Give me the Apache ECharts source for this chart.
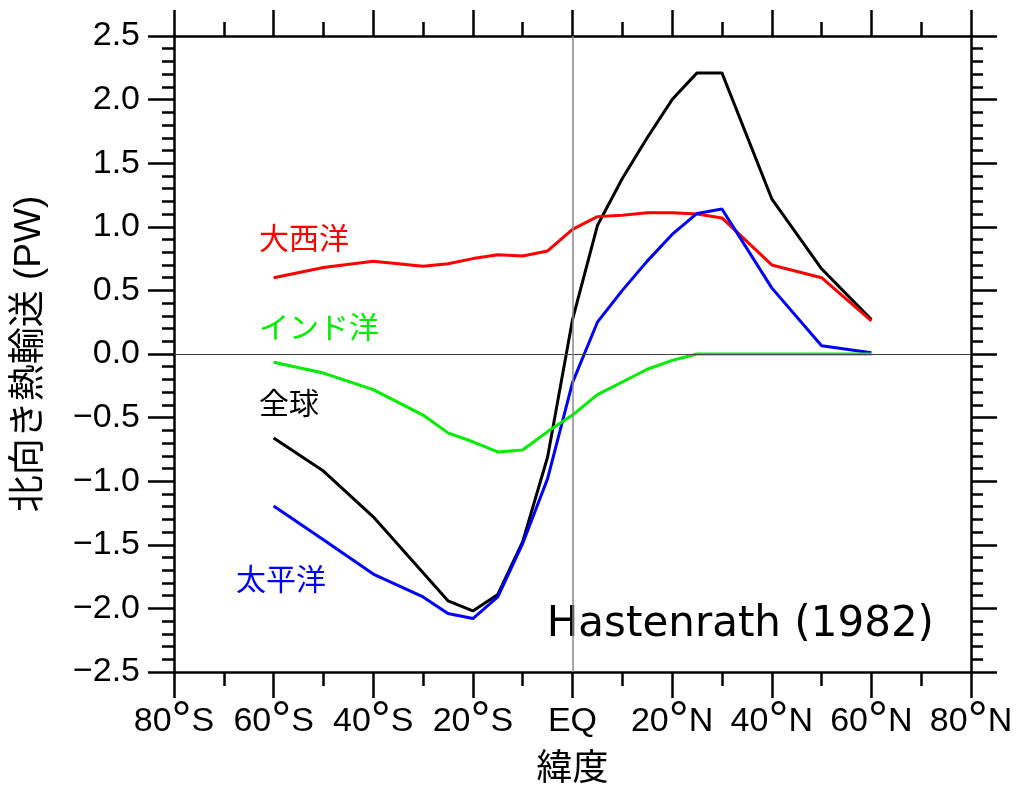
<!DOCTYPE html>
<html><head><meta charset="utf-8">
<script src="https://cdn.jsdelivr.net/npm/echarts@6/dist/echarts.min.js"></script>
<style>html,body{margin:0;padding:0;background:#fff}#c{width:1020px;height:787px}</style>
</head><body><div id="c"></div>
<script>
const latitudes = [-60,-50,-40,-30,-25,-20,-15,-10,-5,0,5,10,15,20,25,30,40,50,60];
const globalHT   = [-0.66,-0.92,-1.28,-1.72,-1.94,-2.02,-1.89,-1.475,-0.81,0.27,1.01,1.38,1.70,2.00,2.21,2.21,1.22,0.67,0.27];
const atlanticHT = [0.60,0.68,0.73,0.69,0.71,0.75,0.78,0.77,0.81,0.98,1.08,1.09,1.11,1.11,1.10,1.07,0.70,0.60,0.26];
const indianHT   = [-0.065,-0.15,-0.28,-0.48,-0.62,-0.69,-0.77,-0.755,-0.61,-0.48,-0.32,-0.22,-0.12,-0.05,0,0,0,0,0];
const pacificHT  = [-1.195,-1.46,-1.73,-1.91,-2.04,-2.08,-1.91,-1.49,-0.98,-0.225,0.25,0.50,0.73,0.94,1.105,1.14,0.52,0.065,0.01];
const seriesNames = ['全球','大西洋','太平洋','インド洋'];
const xTickLabel = v => v < 0 ? '{n|' + (-v) + '}{d|°}{n|S}' : (v === 0 ? '{n|EQ}' : '{n|' + v + '}{d|°}{n|N}');
const yTickLabel = v => (v < 0 ? '−' + (-v).toFixed(1) : v.toFixed(1));
const sourceText = 'Hastenrath (1982)';
const xName = '緯度';
const yName = '北向き熱輸送 (PW)';

const FONT = "'Liberation Sans', 'Noto Sans CJK JP', sans-serif";
const pair = arr => latitudes.map((x, i) => [x, arr[i]]);
const chart = echarts.init(document.getElementById('c'), null, {renderer: 'canvas'});

const axisCommon = {
  axisLine: {show: true, onZero: false, lineStyle: {color: '#000', width: 2.5}},
  axisTick: {show: true, inside: false, length: 26, lineStyle: {color: '#000', width: 2.5}},
  splitLine: {show: false}
};
function mk(arr, color, name) {
  return {type: 'line', name, data: pair(arr), symbol: 'none', smooth: false,
    lineStyle: {color, width: 3}, itemStyle: {color}, z: 3, animation: false};
}
chart.setOption({
  animation: false,
  grid: {left: 174, right: 49, top: 36, bottom: 115, outerBoundsMode: 'none', containLabel: false},
  xAxis: [
    Object.assign({type: 'value', min: -80, max: 80, interval: 20, position: 'bottom',
      minorTick: {show: true, splitNumber: 2, length: 14, lineStyle: {color: '#000', width: 2.5}},
      axisLabel: {formatter: xTickLabel, color: '#000', margin: 30,
        rich: {n: {fontSize: 34, lineHeight: 40, fontFamily: FONT, color: '#000'},
               d: {fontSize: 50, lineHeight: 40, fontFamily: FONT, color: '#000'}}},
      name: xName, nameLocation: 'middle', nameGap: 80,
      nameTextStyle: {fontSize: 36, color: '#000', fontFamily: FONT}}, axisCommon),
    Object.assign({type: 'value', min: -80, max: 80, interval: 20, position: 'top',
      minorTick: {show: true, splitNumber: 2, length: 14, lineStyle: {color: '#000', width: 2.5}},
      axisLabel: {show: false}}, axisCommon)
  ],
  yAxis: [
    Object.assign({type: 'value', min: -2.5, max: 2.5, interval: 0.5, position: 'left',
      minorTick: {show: true, splitNumber: 5, length: 12, lineStyle: {color: '#000', width: 2.5}},
      axisLabel: {formatter: yTickLabel, fontSize: 34, color: '#000', fontFamily: FONT, margin: 34},
      name: yName, nameLocation: 'middle', nameGap: 126, nameRotate: 90,
      nameTextStyle: {fontSize: 37, color: '#000', fontFamily: FONT}}, axisCommon),
    Object.assign({type: 'value', min: -2.5, max: 2.5, interval: 0.5, position: 'right',
      minorTick: {show: true, splitNumber: 5, length: 12, lineStyle: {color: '#000', width: 2.5}},
      axisLabel: {show: false}}, axisCommon)
  ],
  series: [
    {type: 'line', data: [], xAxisIndex: 0, yAxisIndex: 0, z: 1, silent: true,
      markLine: {symbol: ['none', 'none'], silent: true, animation: false, label: {show: false},
        data: [
          {yAxis: 0, lineStyle: {color: '#444', width: 1.2, type: 'solid'}},
          {xAxis: 0, lineStyle: {color: '#888', width: 1.5, type: 'solid'}}
        ]}},
    mk(globalHT, '#000000', seriesNames[0]),
    mk(atlanticHT, '#ff0000', seriesNames[1]),
    mk(pacificHT, '#0000ff', seriesNames[2]),
    mk(indianHT, '#00ee00', seriesNames[3])
  ],
  graphic: [
    {type: 'text', left: 259, top: 226, style: {text: seriesNames[1], fill: '#ff0000', font: '30px ' + FONT}},
    {type: 'text', left: 259, top: 315, style: {text: seriesNames[3], fill: '#00ee00', font: '30px ' + FONT}},
    {type: 'text', left: 259, top: 391, style: {text: seriesNames[0], fill: '#000', font: '30px ' + FONT}},
    {type: 'text', left: 236, top: 567, style: {text: seriesNames[2], fill: '#0000ff', font: '30px ' + FONT}},
    {type: 'text', right: 86, top: 604, style: {text: sourceText, fill: '#000', font: "42px 'DejaVu Sans', sans-serif"}}
  ]
});
</script></body></html>
